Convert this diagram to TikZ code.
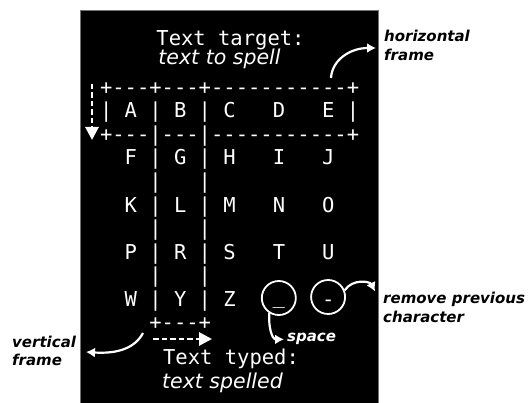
\documentclass[tikz,border=0pt]{standalone}
\usepackage{fontspec}
\setsansfont{DejaVu Sans}
\setmonofont{DejaVu Sans Mono}
\usetikzlibrary{arrows.meta}

\newcommand{\monofnt}{\ttfamily\fontsize{20.5}{23.5}\selectfont}
\newcommand{\slantfnt}{\sffamily\itshape\fontsize{20.5}{23.5}\selectfont}
\newcommand{\notefnt}{\sffamily\bfseries\itshape\fontsize{15}{18}\selectfont}

\begin{document}
\begin{tikzpicture}[x=1pt, y=-1pt,
    row/.style={font=\monofnt, text=white, anchor=base west, inner sep=0pt},
    title/.style={font=\monofnt, text=white, anchor=base, inner sep=0pt},
    subtitle/.style={font=\slantfnt, text=white, anchor=base, inner sep=0pt},
    note/.style={font=\notefnt, anchor=base west, inner sep=0pt},
    key/.style={circle, draw=white, line width=1.8pt, minimum size=34pt, inner sep=0pt},
    bend arrow/.style={white, line width=2.2pt, -{Latex[length=9pt,width=10pt]}},
    dash arrow/.style={white, line width=2.8pt, dash pattern=on 5.5pt off 3pt,
        -{Triangle[length=13pt,width=13pt]}}]
    \useasboundingbox (0,0) rectangle (529,403);

    % screen
    \fill[black] (80,10) rectangle (378,403);
    \draw[black!55, line width=0.8pt] (80,403) -- (80,10) -- (378,10) -- (378,403);

    % titles
    \node[title] (target) at (230.5,46) {Text target:};
    \node[subtitle] (goal) at (219.5,65) {text to spell};
    \node[title] (typed) at (231,364) {Text typed:};
    \node[subtitle] (spelled) at (222.5,388) {text spelled};

    % letter grid
    \foreach \txt [count=\i from 0] in {
        +---+---+-----------+,
        |~A~|~B~|~C~~~D~~~E~|,
        +---|---|-----------+,
        ~~F~|~G~|~H~~~I~~~J,
        ~~~~|~~~|,
        ~~K~|~L~|~M~~~N~~~O,
        ~~~~|~~~|,
        ~~P~|~R~|~S~~~T~~~U,
        ~~~~|~~~|,
        ~~W~|~Y~|~Z~~~~~~~-,
        ~~~~+---+}
        \node[row] (l\i) at (99.8, 94.5+23.5*\i) {\txt};

    % keys
    \node[key] (spc) at (278.8,298) {};
    \node[key] (del) at (328.1,297) {};
    \node[title] (uscore) at (278.8,303) {\textunderscore};

    % frame arrows
    \coordinate (vtop) at (92,84);
    \coordinate (vbot) at (92,140);
    \draw[dash arrow] (vtop) -- (vbot);
    \coordinate (hleft) at (153,339);
    \coordinate (hright) at (212,339);
    \draw[dash arrow] (hleft) -- (hright);

    % labels
    \node[note] (hf1) at (384,42) {horizontal};
    \node[note] (hf2) at (384,61) {frame};
    \node[note] (rp1) at (383,303) {remove previous};
    \node[note] (rp2) at (383,322) {character};
    \node[note] (vf1) at (12,347) {vertical};
    \node[note] (vf2) at (12,365) {frame};
    \node[note, text=white] (spclab) at (287,341) {space};

    % curved arrows
    \coordinate (hfrom) at (331,78);
    \coordinate (hto) at (376,48);
    \draw[bend arrow] (hfrom) .. controls (332,60) and (350,48) .. (hto);
    \coordinate (vfrom) at (143,333);
    \coordinate (vto) at (86,352);
    \draw[bend arrow] (vfrom) .. controls (135,348) and (118,354) .. (vto);
    \draw[bend arrow] (spc.238) .. controls +(-1,14) and +(-12,0) .. ([xshift=-3pt,yshift=-1pt]spclab.west);
    \draw[bend arrow] (del.22) .. controls +(8,-12) and +(-5,-10) .. ([xshift=-8pt]rp1.north west);
\end{tikzpicture}
\end{document}
